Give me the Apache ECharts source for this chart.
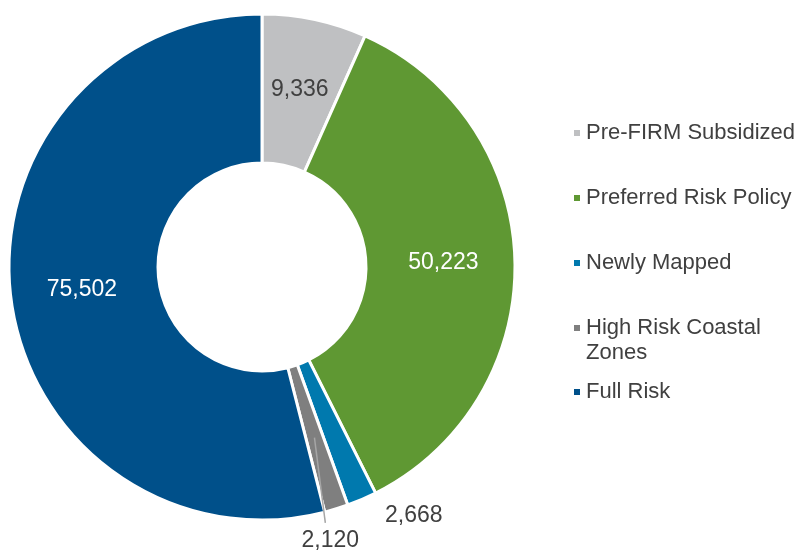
<!DOCTYPE html>
<html>
<head>
<meta charset="utf-8">
<script src="https://cdn.jsdelivr.net/npm/echarts@6/dist/echarts.min.js"></script>
<style>
  html, body { margin: 0; padding: 0; background: #fff; }
  #chart { width: 796px; height: 555px; }
</style>
</head>
<body>
<div id="chart"></div>
<script>
// data
const categories = ['Pre-FIRM Subsidized', 'Preferred Risk Policy', 'Newly Mapped', 'High Risk Coastal Zones', 'Full Risk'];
// the blank first line keeps the icon level with "High Risk Coastal"
const legendText = ['Pre-FIRM Subsidized', 'Preferred Risk Policy', 'Newly Mapped', ' \nHigh Risk Coastal\nZones', 'Full Risk'];
const values = [9336, 50223, 2668, 2120, 75502];
const colors = ['#bfc0c2', '#5f9833', '#0079ae', '#7f7f7f', '#00508a'];

const CX = 262, CY = 267, R0 = 104, R1 = 253;
const FONT = '"Liberation Sans", Arial, sans-serif';
const TEXT = '#404040';

const chart = echarts.init(document.getElementById('chart'));

// mid angle (radians, clockwise from top) of a slice
const total = values.reduce((a, b) => a + b, 0);
const midAngle = (i) => {
  let before = 0;
  for (let k = 0; k < i; k++) before += values[k];
  return (before + values[i] / 2) / total * Math.PI * 2;
};

const labelFor = (i) => {
  if (i === 0) return { position: 'inside', color: TEXT };
  if (i === 2) return { position: 'outside', color: TEXT };
  if (i === 3) return { show: false };
  return { position: 'inside', color: '#fff' };
};

const data = values.map((v, i) => ({
  name: categories[i],
  value: v,
  itemStyle: { color: colors[i] },
  label: labelFor(i),
  labelLine: { show: false, length: 18, length2: 11 }
}));

// transparent copy on top, only carries the 2,120 label and its leader
const overlay = values.map((v, i) => ({
  name: categories[i],
  value: v,
  label: { show: i === 3, position: 'outside', color: TEXT },
  labelLine: i === 3
    ? { show: true, length: 10, length2: 0, lineStyle: { color: '#a6a6a6', width: 1.5 } }
    : { show: false }
}));

// legend: one block per item so the spacing follows the picture
const legendCenters = [133, 198, 263, 328, 392];
const legends = categories.map((name, i) => ({
  data: [{ name, icon: 'rect', itemStyle: { color: colors[i] } }],
  left: 572,
  top: i === 3 ? legendCenters[i] - 37.5 : legendCenters[i] - 12.5,
  padding: 0,
  itemWidth: 8,
  itemHeight: 8,
  itemGap: 0,
  selectedMode: false,
  formatter: () => legendText[i],
  textStyle: {
    fontFamily: FONT,
    fontSize: 22,
    color: TEXT,
    lineHeight: 25
  }
}));

const labelBase = {
  show: true,
  fontFamily: FONT,
  fontSize: 23,
  formatter: (p) => p.value.toLocaleString('en-US')
};

chart.setOption({
  animation: false,
  legend: legends,
  series: [{
    type: 'pie',
    center: [CX, CY],
    radius: [R0, R1],
    startAngle: 90,
    clockwise: true,
    avoidLabelOverlap: false,
    itemStyle: { borderColor: '#fff', borderWidth: 3 },
    label: labelBase,
    emphasis: { disabled: true },
    data
  }, {
    type: 'pie',
    z: 5,
    center: [CX, CY],
    radius: [R0, R1],
    startAngle: 90,
    clockwise: true,
    silent: true,
    avoidLabelOverlap: false,
    itemStyle: { color: 'rgba(0,0,0,0)', borderWidth: 0 },
    label: labelBase,
    emphasis: { disabled: true },
    labelLayout: (params) => {
      if (params.dataIndex !== 3) return {};
      const a = midAngle(3);
      const rm = (R0 + R1) / 2;
      const start = [CX + Math.sin(a) * rm, CY - Math.cos(a) * rm];
      const edge = [CX + Math.sin(a) * R1, CY - Math.cos(a) * R1];
      const end = [edge[0] - 11, edge[1] + 14];
      return {
        x: edge[0] - 6,
        y: edge[1] + 32,
        align: 'center',
        verticalAlign: 'middle',
        labelLinePoints: [start, end, end]
      };
    },
    data: overlay
  }]
});
</script>
</body>
</html>
